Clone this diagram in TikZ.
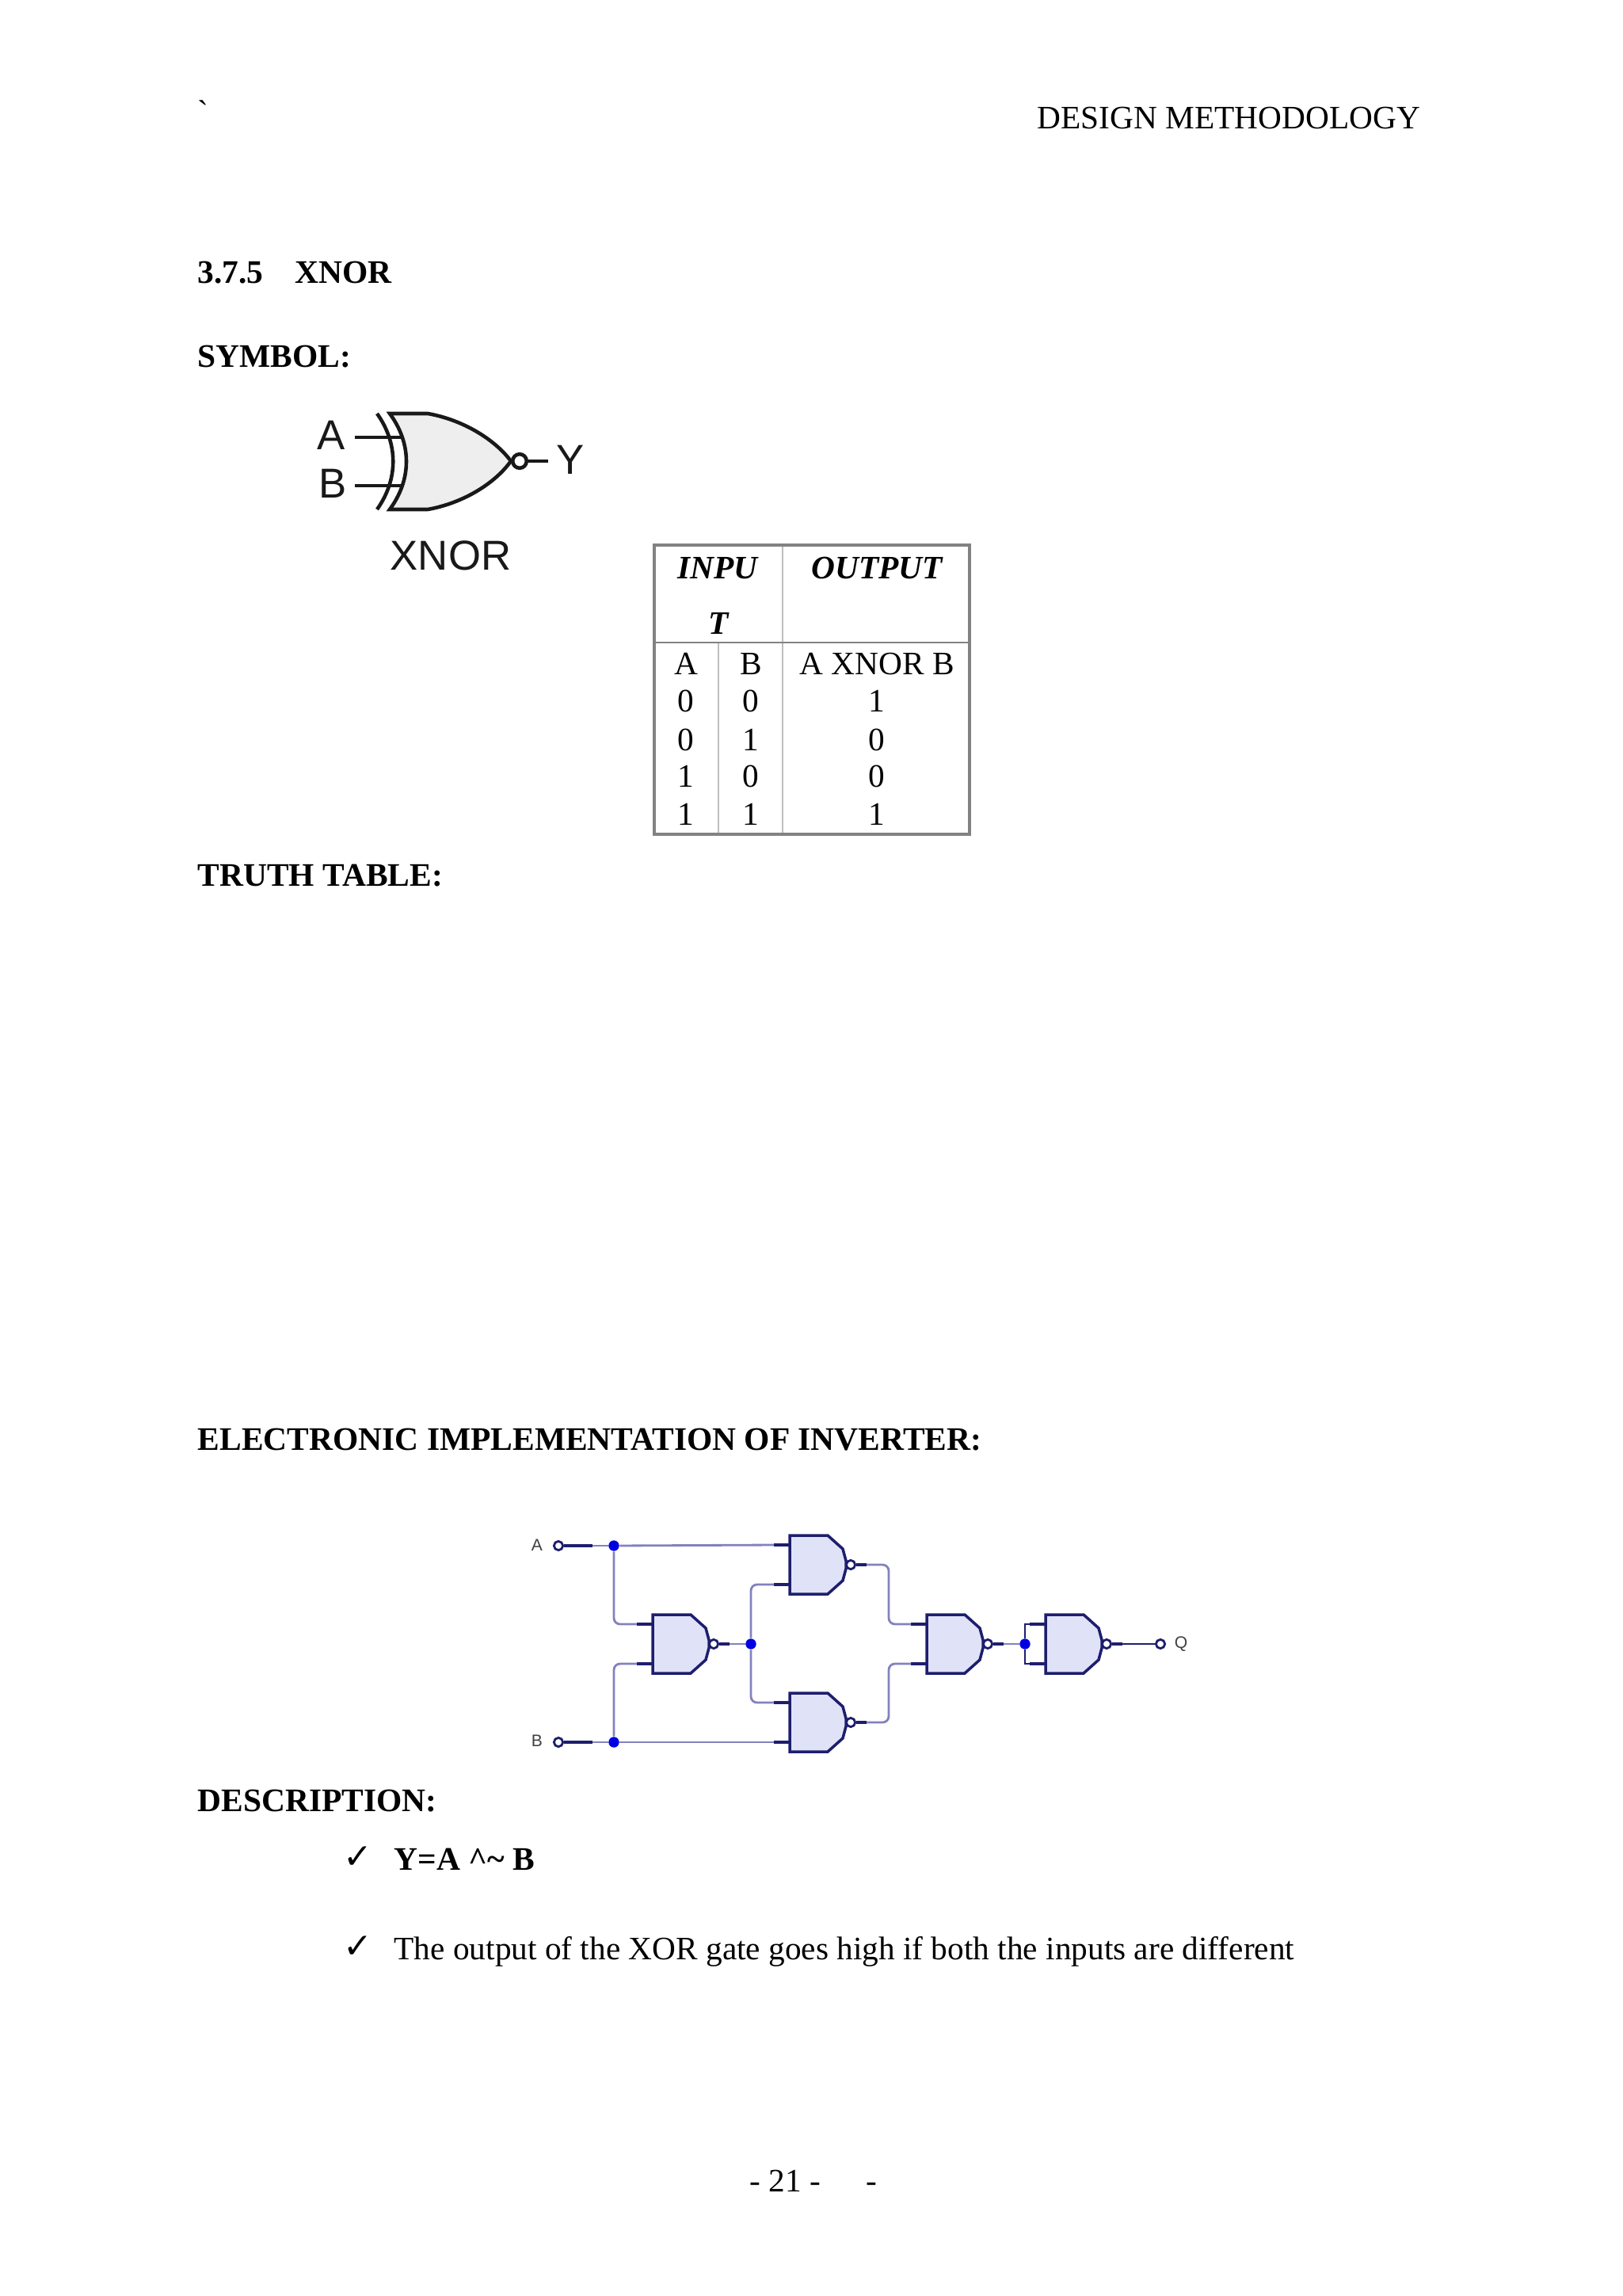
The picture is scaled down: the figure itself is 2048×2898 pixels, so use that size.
\documentclass[tikz,border=0pt]{standalone}
\usepackage{fontspec}
\setmainfont{Liberation Serif}
\setsansfont{Liberation Sans}
\newfontfamily\checkfont{DejaVu Sans}
\definecolor{gatefill}{RGB}{224,226,248}
\definecolor{gateline}{RGB}{30,30,110}
\definecolor{wirecol}{RGB}{130,130,190}
\definecolor{dotcol}{RGB}{0,0,225}
\definecolor{symfill}{RGB}{238,238,238}
\definecolor{symline}{RGB}{25,25,25}
\definecolor{tabdark}{RGB}{130,130,130}
\definecolor{tablight}{RGB}{190,190,190}
\tikzset{
  txt/.style={inner sep=0pt,anchor=base west,font=\fontsize{11.75}{14}\selectfont},
  btxt/.style={txt,font=\fontsize{11.8}{14}\selectfont\bfseries},
  chk/.style={txt,font=\fontsize{12.5}{14}\checkfont},
  cell/.style={inner sep=0pt,anchor=base,font=\fontsize{11.75}{14}\selectfont},
  head/.style={cell,font=\fontsize{11.75}{14}\selectfont\bfseries\itshape},
  symlab/.style={inner sep=0pt,text=symline,font=\fontsize{15}{16}\selectfont\sffamily},
  symwire/.style={symline,line width=1.3pt},
  netlab/.style={inner sep=0pt,text=black!75,font=\fontsize{6}{6}\selectfont\sffamily},
  wire/.style={draw=wirecol,line width=0.8pt,rounded corners=2.2pt},
  stub/.style={draw=gateline,line width=1pt},
  bubble/.style={circle,draw=gateline,fill=white,line width=0.8pt,inner sep=0pt,minimum size=3.2pt},
  junct/.style={circle,fill=dotcol,inner sep=0pt,minimum size=3.8pt},
  pics/nandgate/.style={code={
    \draw[draw=gateline,fill=gatefill,line width=1pt] (0,-37) -- (48,-37) -- (67,-20) -- (71,-5) -- (71,5) -- (67,20) -- (48,37) -- (0,37) -- cycle;
    \coordinate (-a) at (-20,-25);
    \coordinate (-b) at (-20,25);
    \coordinate (-c) at (0,-25);
    \coordinate (-d) at (0,25);
    \coordinate (-q) at (97,0);
    \node[bubble] (-o) at (77,0) {};
    \draw[stub] (-a) -- (-c);
    \draw[stub] (-b) -- (-d);
    \draw[stub] (-o) -- (-q);
  }}
}
\begin{document}
\begin{tikzpicture}[x=0.01cm,y=-0.01cm]
  \useasboundingbox (0,0) rectangle (2048,2898);
  % page text
  \node[txt] (tick) at (249,156) {\textasciigrave};
  \node[txt] (title) at (1309,163) {DESIGN METHODOLOGY};
  \node[btxt] (secnum) at (249,358) {3.7.5};
  \node[btxt] (secname) at (372,358) {XNOR};
  \node[btxt] (symhead) at (249,464) {SYMBOL:};
  \node[btxt] (tabhead) at (249,1118) {TRUTH TABLE:};
  \node[btxt] (imphead) at (249,1830) {ELECTRONIC IMPLEMENTATION OF INVERTER:};
  \node[btxt] (deshead) at (249,2286) {DESCRIPTION:};
  \node[chk] (chka) at (433,2358) {✓};
  \node[btxt] (desa) at (497,2360) {Y=A \^{}\textasciitilde{} B};
  \node[chk] (chkb) at (433,2471) {✓};
  \node[txt] (desb) at (497,2473) {The output of the XOR gate goes high if both the inputs are different};
  \node[txt] (pagenum) at (946,2766) {- 21 -};
  \node[txt] (pagedash) at (1093,2766) {-};

  % xnor symbol
  \draw[symwire,fill=symfill] (492,522) -- (540,522) .. controls (585,530) and (625,555) .. (645,582) .. controls (625,610) and (585,635) .. (540,643) -- (492,643) .. controls (520,605) and (520,560) .. (492,522) -- cycle;
  \draw[symwire] (476,522) .. controls (503,560) and (503,605) .. (476,643);
  \node[circle,draw=symline,fill=white,line width=1.3pt,inner sep=0pt,minimum size=5pt] (symo) at (656,582) {};
  \coordinate (symy) at (692,582);
  \coordinate (syma) at (448,552);
  \coordinate (symb) at (448,613);
  \coordinate (symc) at (507,552);
  \coordinate (symd) at (507,613);
  \draw[symwire] (syma) -- (symc);
  \draw[symwire] (symb) -- (symd);
  \draw[symwire] (symo) -- (symy);
  \node[symlab] (laba) at (418,549) {A};
  \node[symlab] (labb) at (420,610) {B};
  \node[symlab] (laby) at (720,580) {Y};
  \node[symlab] (labx) at (569,701) {XNOR};

  % truth table
  \draw[tablight,line width=0.7pt] (907,811) -- (907,1053);
  \draw[tablight,line width=0.7pt] (988,688) -- (988,1053);
  \draw[tabdark,line width=0.7pt] (826,811) -- (1224,811);
  \draw[tabdark,line width=1.2pt] (826,688) rectangle (1224,1053);
  \node[head] (hin) at (906,731) {INPU};
  \node[head] (hint) at (907,801) {T};
  \node[head] (hout) at (1107,731) {OUTPUT};
  \node[cell] (ca) at (866,852) {A};
  \node[cell] (cb) at (948,852) {B};
  \node[cell] (cq) at (1107,852) {A XNOR B};
  \foreach \a/\b/\q/\y in {0/0/1/899,0/1/0/947,1/0/0/994,1/1/1/1041}{
    \node[cell] (ca\y) at (866,\y) {\a};
    \node[cell] (cb\y) at (948,\y) {\b};
    \node[cell] (cq\y) at (1107,\y) {\q};
  }

  % nand network
  \pic (gm) at (824,2075) {nandgate};
  \pic (gt) at (997,1975) {nandgate};
  \pic (gb) at (997,2174) {nandgate};
  \pic (gr) at (1170,2075) {nandgate};
  \pic (gl) at (1320,2075) {nandgate};
  \node[bubble] (ta) at (705,1951) {};
  \node[bubble] (tb) at (705,2199) {};
  \node[bubble] (tq) at (1465,2075) {};
  \node[junct] (ja) at (775,1951) {};
  \node[junct] (jb) at (775,2199) {};
  \node[junct] (jm) at (948,2075) {};
  \node[junct] (jr) at (1294,2075) {};
  \node[netlab] (na) at (678,1950) {A};
  \node[netlab] (nb) at (678,2197) {B};
  \node[netlab] (nq) at (1491,2075) {Q};
  \coordinate (sa) at (748,1951);
  \coordinate (sb) at (748,2199);
  \coordinate (ct) at (1122,2010);
  \coordinate (cb) at (1122,2140);
  \draw[wire] (ta) -- (ja);
  \draw[wire] (tb) -- (jb);
  \draw[wire] (ja) -- (gt-a);
  \draw[wire] (jb) -- (gb-b);
  \draw[wire] (ja) |- (gm-a);
  \draw[wire] (jb) |- (gm-b);
  \draw[wire] (gm-q) -- (jm);
  \draw[wire] (jm) |- (gt-b);
  \draw[wire] (jm) |- (gb-a);
  \draw[wire] (gt-q) -| (ct) |- (gr-a);
  \draw[wire] (gb-q) -| (cb) |- (gr-b);
  \draw[wire] (gr-q) -- (jr);
  \draw[stub,line width=0.7pt] (jr) |- (gl-a);
  \draw[stub,line width=0.7pt] (jr) |- (gl-b);
  \draw[stub,line width=0.7pt] (gl-o) -- (tq);
  \draw[stub] (ta) -- (sa);
  \draw[stub] (tb) -- (sb);
\end{tikzpicture}
\end{document}
